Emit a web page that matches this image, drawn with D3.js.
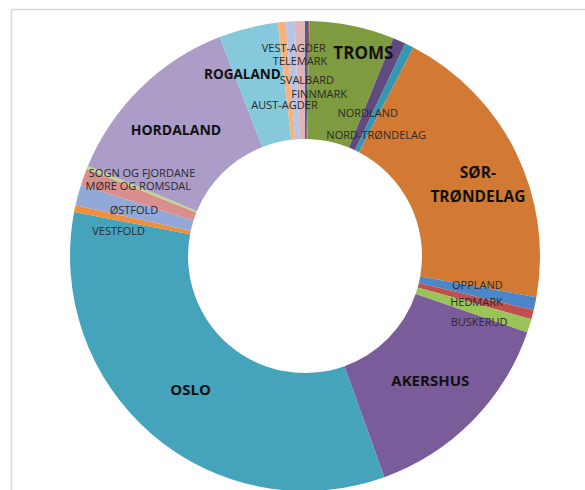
<!DOCTYPE html>
<html>
<head>
<meta charset="utf-8">
<script src="https://cdn.jsdelivr.net/npm/d3@7"></script>
<style>
  html, body { margin: 0; padding: 0; background: #fff; overflow: hidden; }
  text { font-family: "Open Sans", sans-serif; }
</style>
</head>
<body>
<script>
// fylker, clockwise from 12 o'clock
const names = ['FINNMARK', 'SVALBARD', 'TROMS', 'NORDLAND', 'NORD-TRØNDELAG', 'SØR-TRØNDELAG',
  'OPPLAND', 'HEDMARK', 'BUSKERUD', 'AKERSHUS', 'OSLO', 'VESTFOLD', 'ØSTFOLD',
  'MØRE OG ROMSDAL', 'SOGN OG FJORDANE', 'HORDALAND', 'ROGALAND', 'AUST-AGDER', 'VEST-AGDER', 'TELEMARK']
const values = [0.22, 0.08, 5.83, 0.89, 0.61, 20.17,
  0.89, 0.64, 0.94, 14.25, 33.47, 0.47, 1.42,
  1.17, 0.22, 12.81, 4.06, 0.54, 0.61, 0.71]

const colors = ['#3f629a', '#a84a48', '#7e9b3f', '#604a80', '#3796b0', '#d27a33',
  '#4a86c8', '#c0504d', '#9ac358', '#7a5c9b', '#45a3bb', '#f08f3b', '#91a8d8',
  '#d98f8d', '#b8d88b', '#ab9cc8', '#86c8dc', '#f9b27a', '#b6c5e5', '#e0b5b5']

// label nudges away from the ring centroid
const nudge = {
  'FINNMARK': [13, 14], 'SVALBARD': [-1, 0], 'TROMS': [23, -31], 'NORDLAND': [-8, 18],
  'NORD-TRØNDELAG': [-7, 37], 'SØR-TRØNDELAG': [15, 6], 'OPPLAND': [0, -7], 'HEDMARK': [1, 2],
  'BUSKERUD': [6, 14], 'AKERSHUS': [0, 1], 'OSLO': [0, 0], 'VESTFOLD': [-14, 10],
  'ØSTFOLD': [-1, 0], 'MØRE OG ROMSDAL': [-1, -11], 'SOGN OG FJORDANE': [0, -17],
  'HORDALAND': [-6, 0], 'ROGALAND': [-20, -11], 'AUST-AGDER': [-3, 24],
  'VEST-AGDER': [0, -32], 'TELEMARK': [-1, -19]
}
const big = { 'TROMS': 17, 'SØR-TRØNDELAG': 15.5, 'AKERSHUS': 15, 'OSLO': 15, 'HORDALAND': 14, 'ROGALAND': 13.5 }

const w = 585, h = 490
const cx = 305, cy = 256, r0 = 117, r1 = 235

const svg = d3.select('body').append('svg')
  .attr('width', w).attr('height', h)

// frame of the chart area
svg.append('rect')
  .attr('x', 11.5).attr('y', 9.5).attr('width', w + 10).attr('height', h + 10)
  .attr('fill', '#fff').attr('stroke', '#d9d9d9').attr('stroke-width', 1.5)

const data = names.map((n, i) => ({ name: n, value: values[i], color: colors[i] }))

const pie = d3.pie().sort(null).value(d => d.value)
const arc = d3.arc().innerRadius(r0).outerRadius(r1)

const g = svg.append('g').attr('transform', `translate(${cx},${cy})`)

const arcs = pie(data)

g.selectAll('path.slice')
  .data(arcs)
  .enter().append('path')
  .attr('class', 'slice')
  .attr('d', arc)
  .attr('fill', d => d.data.color)

const lbl = g.selectAll('text.lbl')
  .data(arcs)
  .enter().append('text')
  .attr('class', 'lbl')
  .attr('text-anchor', 'middle')
  .attr('transform', d => {
    let c = arc.centroid(d), o = nudge[d.data.name] || [0, 0]
    return `translate(${c[0] + o[0]},${c[1] + o[1]})`
  })
  .attr('font-size', d => big[d.data.name] || 11)
  .attr('font-weight', d => big[d.data.name] ? 700 : 400)
  .attr('fill', d => big[d.data.name] ? '#111' : '#2a2a2a')

lbl.each(function (d) {
  let t = d3.select(this)
  if (d.data.name === 'SØR-TRØNDELAG') {
    t.append('tspan').attr('x', 0).attr('dy', '-0.42em').text('SØR-')
    t.append('tspan').attr('x', 0).attr('dy', '1.56em').text('TRØNDELAG')
  } else {
    t.attr('dy', '0.36em').text(d.data.name)
  }
})
</script>
</body>
</html>
